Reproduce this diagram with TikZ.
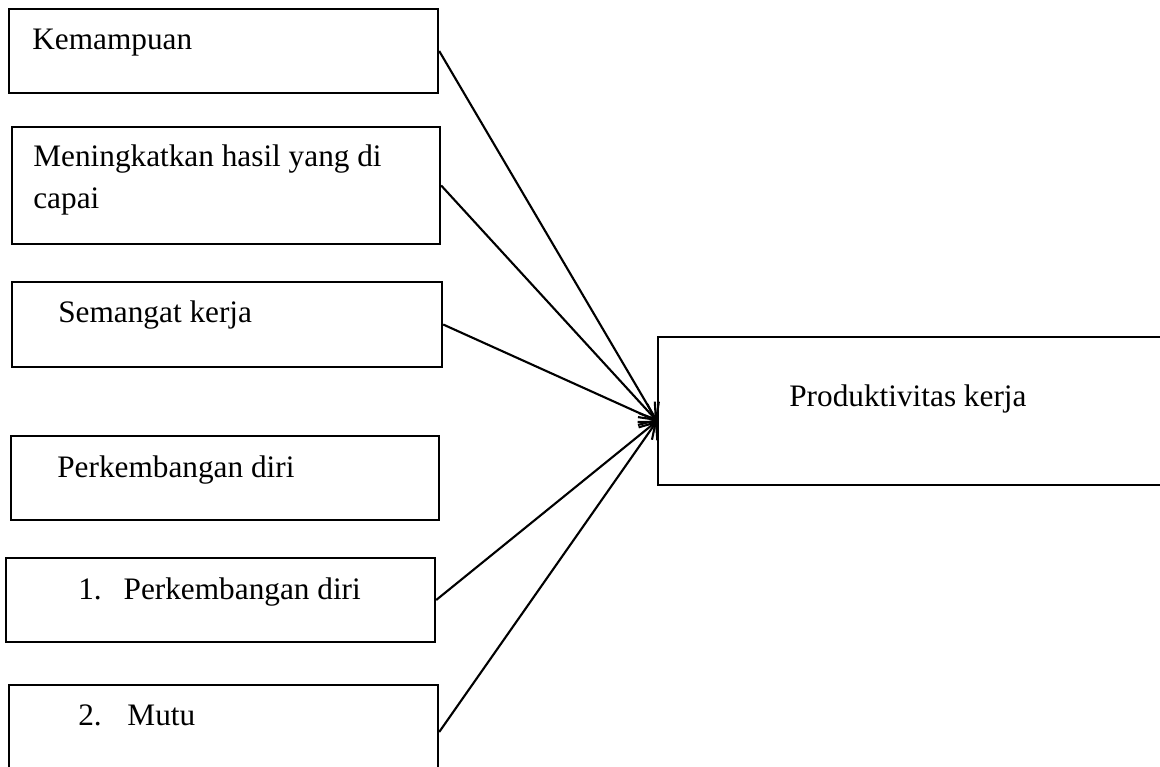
\documentclass[tikz,border=0pt]{standalone}
\usepackage{fontspec}
\setmainfont{Liberation Serif}
\usetikzlibrary{arrows.meta}

\begin{document}
\begin{tikzpicture}[x=0.02cm, y=-0.02cm,
    box/.style={draw, line width=1.4pt, inner sep=0pt},
    txt/.style={anchor=base west, inner sep=0pt, font=\fontsize{17.8}{21}\selectfont},
    arr/.style={line width=1.2pt, -{Straight Barb[length=8pt,width=13pt]}}]
      \useasboundingbox (0,0) rectangle (1160,767);

      % left column of boxes
      \node[box, minimum width=8.58cm, minimum height=1.68cm] (kemampuan) at (223.5,51) {};
      \node[box, minimum width=8.56cm, minimum height=2.34cm] (hasil) at (226,185.5) {};
      \node[box, minimum width=8.60cm, minimum height=1.70cm] (semangat) at (227,324.5) {};
      \node[box, minimum width=8.56cm, minimum height=1.68cm] (diri) at (225,478) {};
      \node[box, minimum width=8.58cm, minimum height=1.68cm] (diriSatu) at (220.5,600) {};
      \node[box, minimum width=8.58cm, minimum height=1.88cm] (mutu) at (223.5,732) {};

      % texts, set near the top left of each box
      \node[txt] (tKemampuan) at (32,50) {Kemampuan};
      \node[txt] (tHasilA) at (33,167) {Meningkatkan hasil yang di};
      \node[txt] (tHasilB) at (33,209) {capai};
      \node[txt] (tSemangat) at (58,322) {Semangat kerja};
      \node[txt] (tDiri) at (57,477) {Perkembangan diri};
      \node[txt] (tDiriSatu) at (78,599) {1.\hspace{0.7em}Perkembangan diri};
      \node[txt] (tMutu) at (78,725) {2.\hspace{0.82em}Mutu};

      % right box = result
      \node[box, minimum width=10.44cm, minimum height=2.96cm] (produktivitas) at (919,411) {};
      \node[txt] (tProduktivitas) at (789,406) {Produktivitas kerja};

      % all arrows meet here
      \coordinate (hub) at (657,421);
      \draw[arr] (kemampuan.east) -- (hub);
      \draw[arr] (hasil.east) -- (hub);
      \draw[arr] (semangat.east) -- (hub);
      \draw[arr] (diriSatu.east) -- (hub);
      \draw[arr] (mutu.east) -- (hub);
    \end{tikzpicture}
\end{document}
